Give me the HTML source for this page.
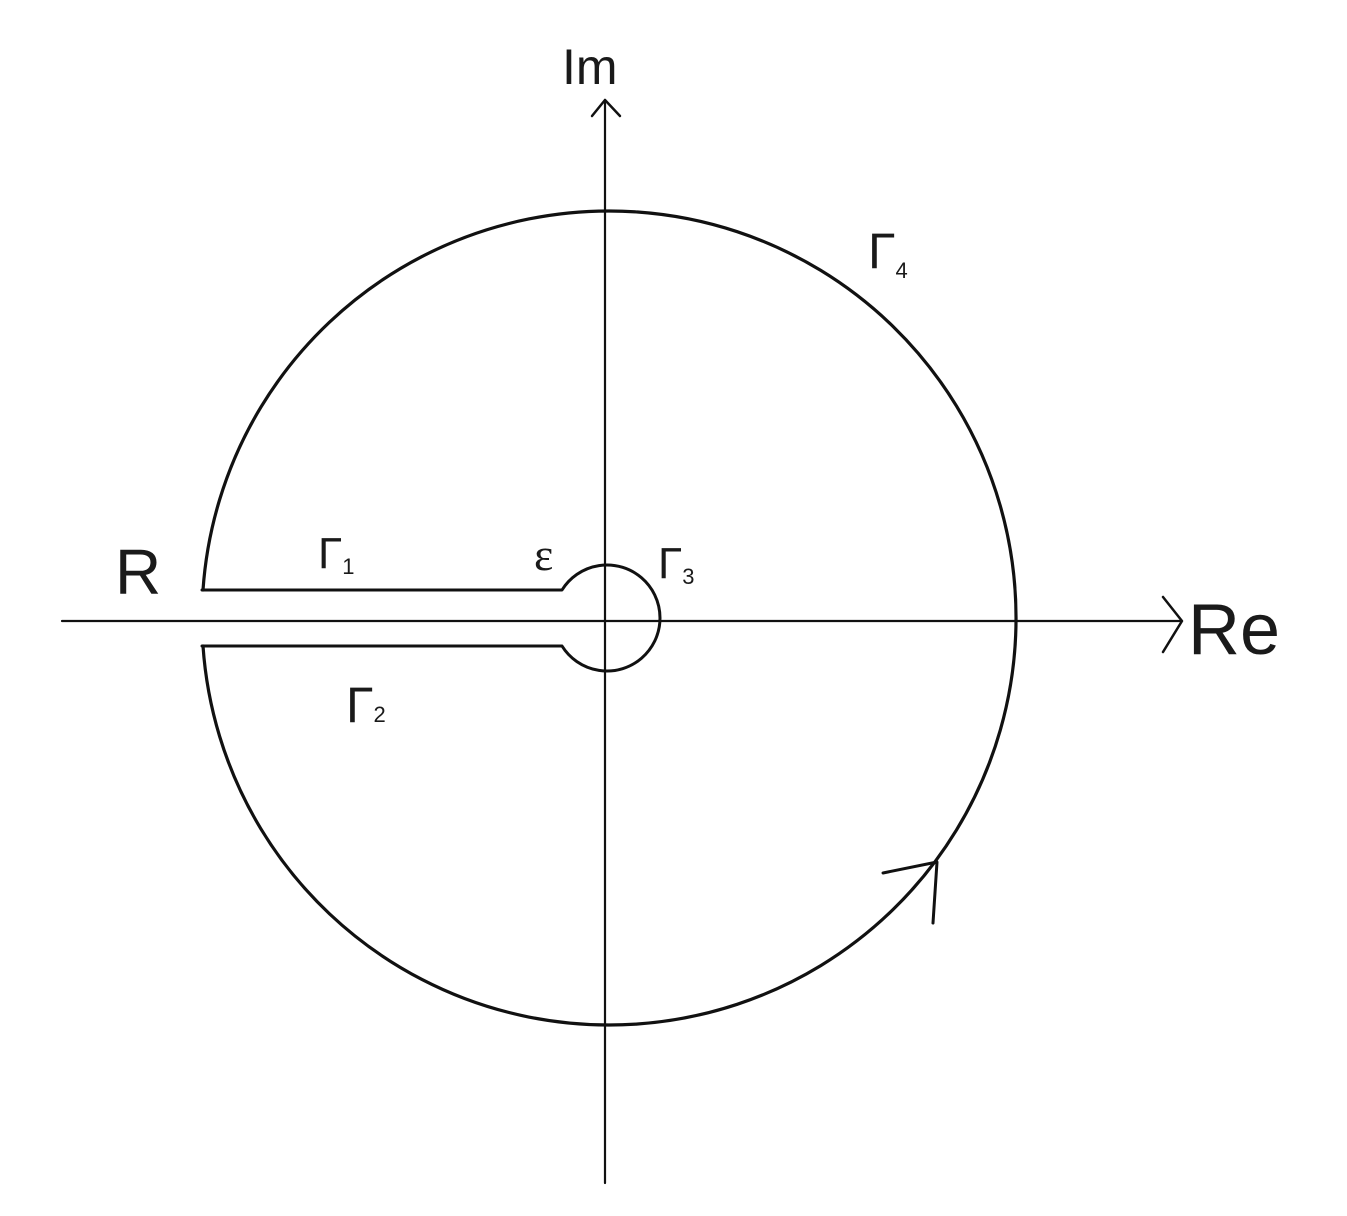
<!DOCTYPE html>
<html><head><meta charset="utf-8"><style>html,body{margin:0;padding:0;background:#fff}svg{display:block}</style></head>
<body>
<svg width="1347" height="1216" viewBox="0 0 1347 1216" xmlns="http://www.w3.org/2000/svg">
<g fill="none" stroke="#111" stroke-linecap="round" stroke-linejoin="round">
<line x1="62" y1="621" x2="1180" y2="621" stroke-width="2.2"/>
<polyline points="1163,597 1182,621 1163,652" stroke-width="2.5"/>
<line x1="605" y1="1183" x2="605" y2="100" stroke-width="2.2"/>
<polyline points="592,116 605,100 620,116" stroke-width="2.5"/>
<path d="M202,590 L562,590 A53,53 0 1 1 562,646 L202,646" stroke-width="3"/>
<path d="M203,590 A407,407 0 1 1 203,646" stroke-width="3.2"/>
<polyline points="883,873 937,862 933,923" stroke-width="3"/>
</g>
<g font-family="Liberation Sans, sans-serif" fill="#1a1a1a">
<text x="562" y="84" font-size="50">Im</text>
<text x="1188" y="654" font-size="72">Re</text>
<text x="115" y="594" font-size="64">R</text>
<text x="318" y="568" font-size="44">Γ<tspan font-size="22" dy="6">1</tspan></text>
<text x="534" y="570" font-size="46" font-family="Liberation Serif, serif">ε</text>
<text x="658" y="578" font-size="44">Γ<tspan font-size="22" dy="6">3</tspan></text>
<text x="346" y="722" font-size="50">Γ<tspan font-size="22" dy="0">2</tspan></text>
<text x="868" y="268" font-size="50">Γ<tspan font-size="22" dy="10">4</tspan></text>
</g>
</svg>
</body></html>
